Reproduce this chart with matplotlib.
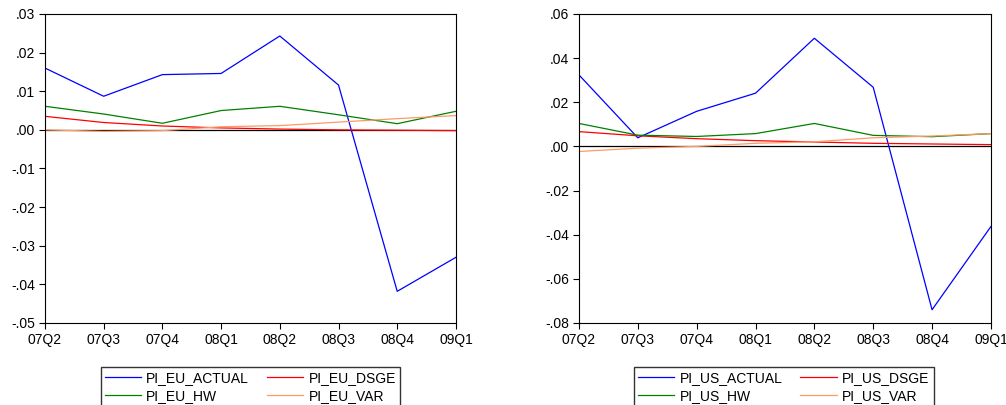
import matplotlib
matplotlib.use("Agg")
import matplotlib.pyplot as plt
from matplotlib.ticker import FuncFormatter

plt.rcParams['font.family'] = ['Liberation Sans', 'DejaVu Sans']

quarters = ["07Q2", "07Q3", "07Q4", "08Q1", "08Q2", "08Q3", "08Q4", "09Q1"]

# Euro area inflation: actual vs forecasts
pi_eu_actual = [0.0160, 0.0087, 0.0143, 0.0146, 0.0243, 0.0116, -0.0418, -0.0330]
pi_eu_dsge = [0.0035, 0.0019, 0.0010, 0.0005, 0.0002, 0.0000, -0.0001, -0.0002]
pi_eu_hw = [0.0061, 0.0041, 0.0017, 0.0050, 0.0061, 0.0039, 0.0016, 0.0048]
pi_eu_var = [0.0000, -0.0004, -0.0002, 0.0008, 0.0011, 0.0020, 0.0029, 0.0037]

# US inflation: actual vs forecasts
pi_us_actual = [0.0324, 0.0039, 0.0159, 0.0241, 0.0490, 0.0268, -0.0740, -0.0363]
pi_us_dsge = [0.0067, 0.0048, 0.0035, 0.0026, 0.0020, 0.0014, 0.0011, 0.0008]
pi_us_hw = [0.0104, 0.0051, 0.0045, 0.0058, 0.0104, 0.0050, 0.0044, 0.0058]
pi_us_var = [-0.0023, -0.0008, 0.0000, 0.0014, 0.0021, 0.0039, 0.0047, 0.0058]

eu_ticks = [0.03, 0.02, 0.01, 0.0, -0.01, -0.02, -0.03, -0.04, -0.05]
us_ticks = [0.06, 0.04, 0.02, 0.0, -0.02, -0.04, -0.06, -0.08]


def fmt(v, pos):
    s = "%.2f" % v
    if s.startswith("0"):
        s = s[1:]
    elif s.startswith("-0"):
        s = "-" + s[2:]
    return s


def draw_panel(ax, series, names, ticks, legend_x):
    colors = ["#0000ff", "#ff0000", "#008000", "#ff9966"]
    x = range(len(quarters))
    ax.axhline(0, color="black", lw=0.9, zorder=1)
    lines = []
    for vals, c in zip(series, colors):
        ln, = ax.plot(x, vals, color=c, lw=0.9, zorder=2)
        lines.append(ln)
    ax.set_xlim(0, len(quarters) - 1)
    ax.set_ylim(ticks[-1], ticks[0])
    ax.set_yticks(ticks)
    ax.yaxis.set_major_formatter(FuncFormatter(fmt))
    ax.set_xticks(list(x))
    ax.set_xticklabels(quarters)
    ax.tick_params(labelsize=10, length=4, width=0.8, direction="out", pad=3)
    for sp in ax.spines.values():
        sp.set_linewidth(0.8)
    # legend order: actual, dsge / hw, var (row-wise)
    order = [0, 2, 1, 3]
    ax.figure.legend([lines[i] for i in order], [names[i] for i in order],
                     loc="upper center", bbox_to_anchor=(legend_x, 0.094),
                     ncol=2, fontsize=10, frameon=True, fancybox=False,
                     edgecolor="black", handlelength=2.6, columnspacing=1.3,
                     handletextpad=0.4, labelspacing=0.3, borderpad=0.3,
                     borderaxespad=0)


fig = plt.figure(figsize=(10.06, 4.05), dpi=100)
ax1 = fig.add_axes([0.0447, 0.2025, 0.4085, 0.763])
ax2 = fig.add_axes([0.5755, 0.2025, 0.4095, 0.763])

draw_panel(ax1, [pi_eu_actual, pi_eu_dsge, pi_eu_hw, pi_eu_var],
           ["PI_EU_ACTUAL", "PI_EU_DSGE", "PI_EU_HW", "PI_EU_VAR"], eu_ticks, 0.249)
draw_panel(ax2, [pi_us_actual, pi_us_dsge, pi_us_hw, pi_us_var],
           ["PI_US_ACTUAL", "PI_US_DSGE", "PI_US_HW", "PI_US_VAR"], us_ticks, 0.779)

fig.savefig("out.png", dpi=100)
